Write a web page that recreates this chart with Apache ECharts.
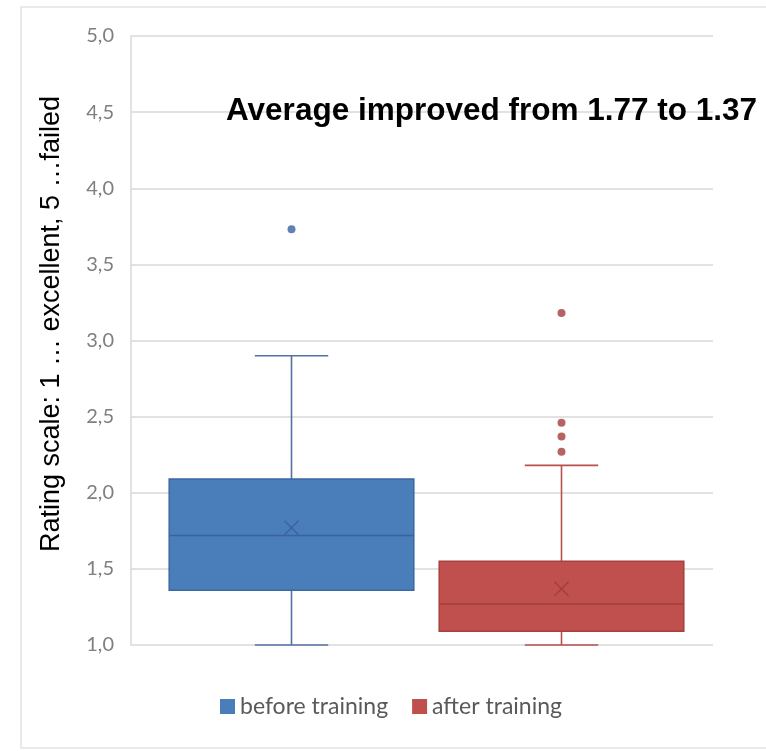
<!DOCTYPE html>
<html>
<head>
<meta charset="utf-8">
<script src="https://cdn.jsdelivr.net/npm/echarts@6/dist/echarts.min.js"></script>
<style>
  html, body { margin: 0; padding: 0; background: #ffffff; }
  #chart { width: 766px; height: 751px; }
</style>
</head>
<body>
<div id="chart"></div>
<script>
// Groups shown on the category axis
const categories = ['before training', 'after training'];

// Five-number summaries per group
const whiskerLow  = [1.00, 1.00];
const quartile1   = [1.36, 1.09];
const medians     = [1.72, 1.27];
const quartile3   = [2.09, 1.55];
const whiskerHigh = [2.90, 2.18];
const means       = [1.77, 1.37];

// Points beyond the whiskers
const outliersBefore = [3.73];
const outliersAfter  = [2.27, 2.37, 2.46, 3.18];

// Rating axis
const yMin = 1, yMax = 5, yStep = 0.5;

const titleText = 'Average improved from 1.77 to 1.37';
const yAxisTitle = 'Rating scale: 1 \u2026 excellent, 5 \u2026failed';

const palette = [
  { fill: '#4a7ebb', border: '#3c67a0', whisker: '#5670a6', mark: '#3b62a0' },
  { fill: '#c0504d', border: '#a6413e', whisker: '#b8514e', mark: '#a13f3c' }
];

function boxRenderer(style) {
  return function (params, api) {
    const x = api.value(0);
    const lo = api.coord([x, api.value(1)]);
    const b1 = api.coord([x, api.value(2)]);
    const md = api.coord([x, api.value(3)]);
    const b3 = api.coord([x, api.value(4)]);
    const hi = api.coord([x, api.value(5)]);
    const mn = api.coord([x, api.value(6)]);
    const band = api.size([1, 0])[0];
    const half = band * 0.453;
    const cap = band * 0.136;
    const cx = lo[0];
    const lineStyle = { stroke: style.whisker, lineWidth: 1.6 };
    const xs = 7;
    return {
      type: 'group',
      children: [
        { type: 'line', shape: { x1: cx, y1: b3[1], x2: cx, y2: hi[1] }, style: lineStyle },
        { type: 'line', shape: { x1: cx, y1: b1[1], x2: cx, y2: lo[1] }, style: lineStyle },
        { type: 'line', shape: { x1: cx - cap, y1: hi[1], x2: cx + cap, y2: hi[1] }, style: lineStyle },
        { type: 'line', shape: { x1: cx - cap, y1: lo[1], x2: cx + cap, y2: lo[1] }, style: lineStyle },
        { type: 'rect', shape: { x: cx - half, y: b3[1], width: half * 2, height: b1[1] - b3[1] },
          style: { fill: style.fill, stroke: style.border, lineWidth: 1.5 } },
        { type: 'line', shape: { x1: cx - half, y1: md[1], x2: cx + half, y2: md[1] },
          style: { stroke: style.mark, lineWidth: 1.5 } },
        { type: 'line', shape: { x1: cx - xs, y1: mn[1] - xs, x2: cx + xs, y2: mn[1] + xs },
          style: { stroke: style.mark, lineWidth: 1.4 } },
        { type: 'line', shape: { x1: cx - xs, y1: mn[1] + xs, x2: cx + xs, y2: mn[1] - xs },
          style: { stroke: style.mark, lineWidth: 1.4 } }
      ]
    };
  };
}

function boxItem(i) {
  return [i, whiskerLow[i], quartile1[i], medians[i], quartile3[i], whiskerHigh[i], means[i]];
}

const chart = echarts.init(document.getElementById('chart'), null, { renderer: 'canvas' });

const gridTop = 36, gridBottom = 106;

chart.setOption({
  backgroundColor: '#ffffff',
  animation: false,
  title: {
    text: titleText,
    left: 221,
    top: 90,
    textStyle: { fontFamily: 'Liberation Sans, Arial, sans-serif', fontWeight: 'bold', fontSize: 31.5, color: '#000000' }
  },
  legend: {
    data: categories,
    left: 215,
    top: 690,
    icon: 'rect',
    itemWidth: 15,
    itemHeight: 15,
    itemGap: 24,
    textStyle: { fontFamily: 'Lato, sans-serif', fontSize: 23, color: '#595959' }
  },
  graphic: [
    {
      type: 'rect',
      shape: { x: 21, y: 7, width: 800, height: 741 },
      style: { fill: 'none', stroke: '#e3e3e3', lineWidth: 1.5 },
      silent: true,
      z: -1
    },
    {
      type: 'text',
      x: 52,
      y: 324,
      rotation: Math.PI / 2,
      style: {
        text: yAxisTitle,
        fontFamily: 'Liberation Sans, Arial, sans-serif',
        fontSize: 27,
        fill: '#000000',
        align: 'center',
        verticalAlign: 'middle'
      },
      silent: true
    }
  ],
  grid: [
    { left: 131, right: 53, top: gridTop, bottom: gridBottom },
    { left: 156.5, right: 69.5, top: gridTop, bottom: gridBottom }
  ],
  xAxis: [
    { gridIndex: 0, type: 'category', data: [''], show: false },
    { gridIndex: 1, type: 'category', data: categories, show: false }
  ],
  yAxis: [
    {
      gridIndex: 0, type: 'value', min: yMin, max: yMax, interval: yStep,
      axisLine: { show: true, lineStyle: { color: '#d9d9d9', width: 1.5 } },
      axisTick: { show: false },
      axisLabel: {
        margin: 17,
        fontFamily: 'Lato, sans-serif', fontSize: 20, color: '#7f7f7f',
        formatter: v => v.toFixed(1).replace('.', ',')
      },
      splitLine: { show: true, lineStyle: { color: '#d9d9d9', width: 1.5 } }
    },
    { gridIndex: 1, type: 'value', min: yMin, max: yMax, interval: yStep, show: false, splitLine: { show: false } }
  ],
  series: [
    {
      name: categories[0], type: 'custom', xAxisIndex: 1, yAxisIndex: 1,
      itemStyle: { color: palette[0].fill },
      renderItem: boxRenderer(palette[0]),
      encode: { x: 0, y: [1, 2, 3, 4, 5, 6] },
      data: [boxItem(0)]
    },
    {
      name: categories[1], type: 'custom', xAxisIndex: 1, yAxisIndex: 1,
      itemStyle: { color: palette[1].fill },
      renderItem: boxRenderer(palette[1]),
      encode: { x: 0, y: [1, 2, 3, 4, 5, 6] },
      data: [boxItem(1)]
    },
    {
      name: categories[0], type: 'scatter', xAxisIndex: 1, yAxisIndex: 1,
      symbol: 'circle', symbolSize: 8,
      itemStyle: { color: palette[0].mark },
      data: outliersBefore.map(v => [0, v])
    },
    {
      name: categories[1], type: 'scatter', xAxisIndex: 1, yAxisIndex: 1,
      symbol: 'circle', symbolSize: 8,
      itemStyle: { color: palette[1].mark },
      data: outliersAfter.map(v => [1, v])
    }
  ]
});
</script>
</body>
</html>
